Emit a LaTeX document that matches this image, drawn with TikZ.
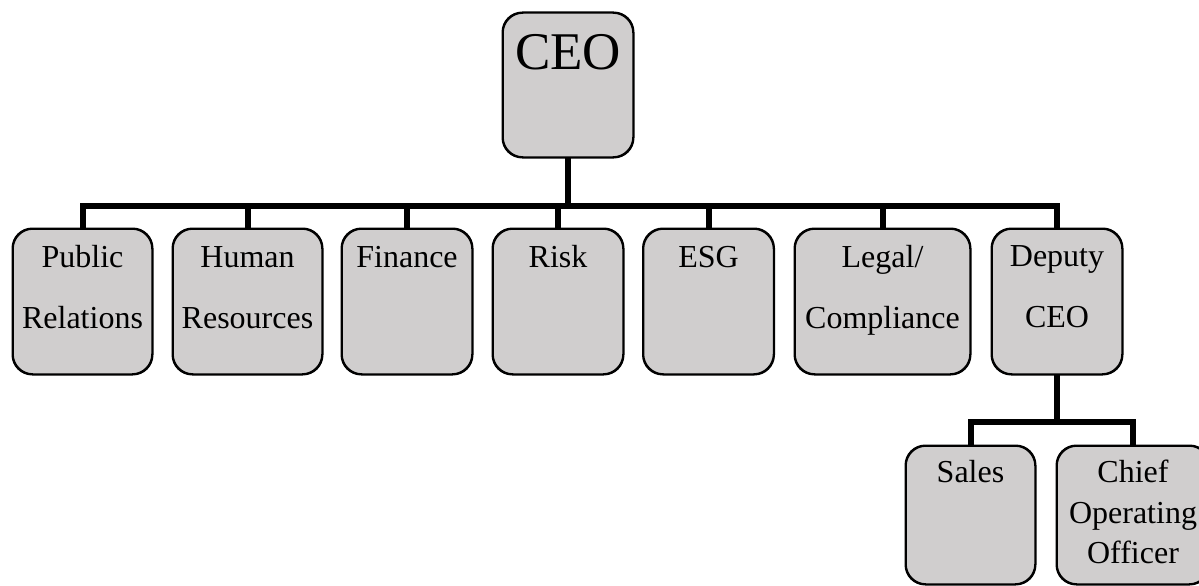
\documentclass[tikz,border=0pt]{standalone}
\usepackage{fontspec}
\setmainfont{Liberation Serif}
\definecolor{boxgray}{RGB}{208,206,206}
\begin{document}
\begin{tikzpicture}[x=1pt,y=-1pt,
  box/.style={draw=black, line width=1.5pt, fill=boxgray, rounded corners=20pt, rectangle, inner sep=0pt, minimum height=145pt},
  conn/.style={draw=black, line width=6pt},
  lbl/.style={anchor=base, inner sep=0pt, font=\fontsize{32}{38}\selectfont},
  big/.style={anchor=base, inner sep=0pt, font=\fontsize{53}{60}\selectfont}]
\useasboundingbox (0,0) rectangle (1199,586);
\coordinate (barL) at (82.5,206);
\coordinate (subbar) at (970.5,422);
% boxes
\node[box, minimum width=130pt, minimum height=144pt] (ceo) at (568,85) {};
\node[box, minimum width=139pt] (pr) at (82.5,301.5) {};
\node[box, minimum width=149pt] (hr) at (247.5,301.5) {};
\node[box, minimum width=130pt] (fin) at (407,301.5) {};
\node[box, minimum width=130pt] (risk) at (558,301.5) {};
\node[box, minimum width=130pt] (esg) at (708.5,301.5) {};
\node[box, minimum width=175pt] (legal) at (882.5,301.5) {};
\node[box, minimum width=130pt] (dep) at (1057,301.5) {};
\node[box, minimum width=129pt, minimum height=138pt] (sales) at (970.5,515) {};
\node[box, minimum width=152pt, minimum height=138pt] (coo) at (1133,515) {};
% connectors
\draw[conn] (ceo.south) -- (ceo.south |- barL);
\draw[conn] (pr.north) |- (dep.north |- barL) -- (dep.north);
\foreach \n in {hr,fin,risk,esg,legal}
  \draw[conn] (\n.north) -- (\n.north |- barL);
\draw[conn] (dep.south) -- (dep.south |- subbar);
\draw[conn] (sales.north) |- (coo.north |- subbar) -- (coo.north);
% box outlines over connector ends
\foreach \n in {ceo,pr,hr,fin,risk,esg,legal,dep,sales,coo}
  \draw[line width=1.5pt, rounded corners=20pt] (\n.north west) rectangle (\n.south east);
% texts
\node[big] (tceo) at (568,70) {CEO};
\node[lbl] (tpr1) at (82.5,267) {Public};
\node[lbl] (tpr2) at (82.5,328) {Relations};
\node[lbl] (thr1) at (247.5,267) {Human};
\node[lbl] (thr2) at (247.5,328) {Resources};
\node[lbl] (tfin) at (407,267) {Finance};
\node[lbl] (trisk) at (558,267) {Risk};
\node[lbl] (tesg) at (708.5,267) {ESG};
\node[lbl] (tlegal1) at (882.5,267) {Legal/};
\node[lbl] (tlegal2) at (882.5,328) {Compliance};
\node[lbl] (tdep1) at (1057,266) {Deputy};
\node[lbl] (tdep2) at (1057,327) {CEO};
\node[lbl] (tsales) at (970.5,482) {Sales};
\node[lbl] (tcoo1) at (1133,482) {Chief};
\node[lbl] (tcoo2) at (1133,523) {Operating};
\node[lbl] (tcoo3) at (1133,563) {Officer};
\end{tikzpicture}
\end{document}
